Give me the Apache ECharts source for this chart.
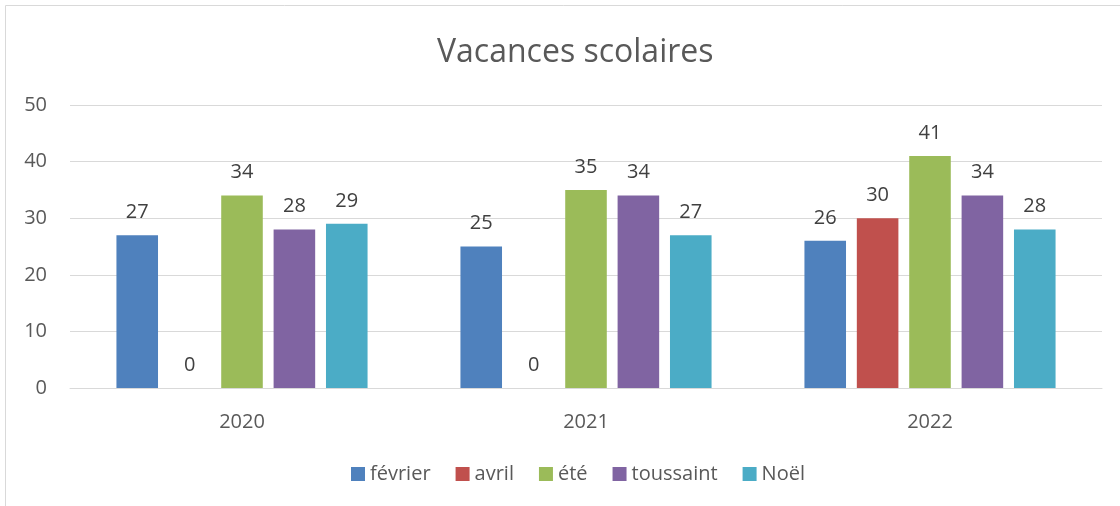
<!DOCTYPE html>
<html>
<head>
<meta charset="utf-8">
<script src="https://cdn.jsdelivr.net/npm/echarts@6/dist/echarts.min.js"></script>
<style>
  html, body { margin: 0; padding: 0; background: #fff; }
  #chart { width: 1120px; height: 506px; }
</style>
</head>
<body>
<div id="chart"></div>
<script>
// données
var annees = ["2020", "2021", "2022"];
var fevrier = [27, 25, 26];
var avril = [0, 0, 30];
var ete = [34, 35, 41];
var toussaint = [28, 34, 34];
var noel = [29, 27, 28];
var seriesNames = ["février", "avril", "été", "toussaint", "Noël"];
var colors = ["#4F81BD", "#C0504D", "#9BBB59", "#8064A2", "#4BACC6"];

var font = "'Open Sans', 'Noto Sans', sans-serif";
var myChart = echarts.init(document.getElementById("chart"));

var values = [fevrier, avril, ete, toussaint, noel];
var series = [];
for (var i = 0; i < values.length; i++) {
  series.push({
    name: seriesNames[i],
    type: "bar",
    data: values[i],
    barGap: "26%",
    barCategoryGap: "27%",
    itemStyle: { color: colors[i] },
    label: {
      show: true,
      position: "top",
      distance: 13,
      color: "#404040",
      fontSize: 20,
      fontFamily: font
    }
  });
}

myChart.setOption({
  animation: false,
  color: colors,
  graphic: [{
    type: "rect",
    shape: { x: 5.5, y: 5.5, width: 1130, height: 520 },
    style: { fill: "none", stroke: "#d9d9d9", lineWidth: 1 },
    silent: true
  }],
  title: {
    text: "Vacances scolaires",
    left: 432,
    top: 32,
    textStyle: { color: "#595959", fontSize: 32, fontWeight: "normal", fontFamily: font }
  },
  legend: {
    data: seriesNames,
    bottom: 17,
    left: 346,
    itemWidth: 14,
    itemHeight: 14,
    itemGap: 25,
    icon: "rect",
    textStyle: { color: "#595959", fontSize: 20, fontFamily: font }
  },
  grid: { left: 70, right: 18, top: 105, bottom: 118 },
  xAxis: {
    type: "category",
    data: annees,
    axisLine: { show: true, lineStyle: { color: "#d9d9d9" } },
    axisTick: { show: false },
    axisLabel: { color: "#595959", fontSize: 20, fontFamily: font, margin: 24 }
  },
  yAxis: {
    type: "value",
    min: 0,
    max: 50,
    interval: 10,
    axisLine: { show: false },
    axisTick: { show: false },
    splitLine: { lineStyle: { color: "#d9d9d9" } },
    axisLabel: { color: "#595959", fontSize: 20, fontFamily: font, margin: 23 }
  },
  series: series
});
</script>
</body>
</html>
